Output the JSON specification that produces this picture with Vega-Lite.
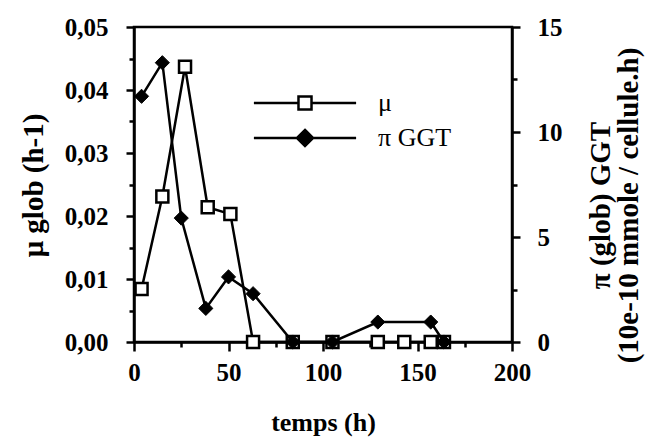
{
  "$schema": "https://vega.github.io/schema/vega-lite/v6.json",
  "width": 378,
  "height": 315,
  "autosize": {"type": "none"},
  "padding": {"left": 134, "top": 27, "right": 145, "bottom": 101},
  "background": "white",
  "config": {
    "view": {"stroke": "black", "strokeWidth": 2.5},
    "font": "Liberation Serif",
    "axis": {
      "domainColor": "black", "domainWidth": 2.5,
      "tickColor": "black", "tickWidth": 2.5,
      "labelFont": "Liberation Serif", "labelFontWeight": "bold", "labelFontSize": 25, "labelColor": "black",
      "titleFont": "Liberation Serif", "titleFontWeight": "bold", "titleFontSize": 26, "titleColor": "black",
      "grid": false
    }
  },
  "datasets": {
    "mu": [
      {"t": 4, "mu": 0.0084},
      {"t": 15, "mu": 0.0231},
      {"t": 27, "mu": 0.0437},
      {"t": 39, "mu": 0.0214},
      {"t": 51, "mu": 0.0203},
      {"t": 63, "mu": 0},
      {"t": 84, "mu": 0},
      {"t": 105, "mu": 0},
      {"t": 129, "mu": 0},
      {"t": 143, "mu": 0},
      {"t": 157, "mu": 0},
      {"t": 164, "mu": 0}
    ],
    "pi": [
      {"t": 4, "pi": 11.7},
      {"t": 15, "pi": 13.3},
      {"t": 25, "pi": 5.9},
      {"t": 38, "pi": 1.6},
      {"t": 50, "pi": 3.1},
      {"t": 63, "pi": 2.3},
      {"t": 84, "pi": 0},
      {"t": 105, "pi": 0},
      {"t": 129, "pi": 0.95},
      {"t": 157, "pi": 0.95},
      {"t": 164, "pi": 0}
    ],
    "series": []
  },
  "layer": [
    {
      "data": {"name": "mu"},
      "encoding": {
        "x": {
          "field": "t", "type": "quantitative",
          "scale": {"domain": [0, 200], "nice": false},
          "axis": {
            "title": "temps (h)",
            "values": [0, 25, 50, 75, 100, 125, 150, 175, 200],
            "labelExpr": "datum.value % 50 === 0 ? datum.label : ''",
            "tickSize": {"condition": {"test": "datum.value % 50 === 0", "value": 9}, "value": 5},
            "labelPadding": 9,
            "labelFlush": false,
            "titleY": 80, "titleBaseline": "middle"
          }
        },
        "y": {
          "field": "mu", "type": "quantitative",
          "scale": {"domain": [0, 0.05], "nice": false},
          "axis": {
            "orient": "left",
            "title": "μ glob (h-1)",
            "titleFontSize": 29,
            "values": [0, 0.005, 0.01, 0.015, 0.02, 0.025, 0.03, 0.035, 0.04, 0.045, 0.05],
            "labelExpr": "abs(datum.value*100 - round(datum.value*100)) < 0.01 ? replace(format(datum.value, '.2f'), '.', ',') : ''",
            "tickSize": {"condition": {"test": "abs(datum.value*100 - round(datum.value*100)) < 0.01", "value": 8}, "value": 5},
            "labelPadding": 18,
            "labelFlush": false,
            "titleX": -101, "titleY": 158, "titleAlign": "center", "titleBaseline": "middle", "titleAngle": -90
          }
        }
      },
      "layer": [
        {"mark": {"type": "line", "color": "black", "strokeWidth": 2.5}},
        {"mark": {"type": "point", "shape": "square", "filled": true, "fill": "white", "stroke": "black", "strokeWidth": 2.5, "size": 144, "opacity": 1}}
      ]
    },
    {
      "data": {"name": "pi"},
      "encoding": {
        "x": {
          "field": "t", "type": "quantitative",
          "scale": {"domain": [0, 200], "nice": false},
          "axis": {
            "title": "temps (h)",
            "values": [0, 25, 50, 75, 100, 125, 150, 175, 200],
            "labelExpr": "datum.value % 50 === 0 ? datum.label : ''",
            "tickSize": {"condition": {"test": "datum.value % 50 === 0", "value": 9}, "value": 5},
            "labelPadding": 9,
            "labelFlush": false,
            "titleY": 80, "titleBaseline": "middle"
          }
        },
        "y": {
          "field": "pi", "type": "quantitative",
          "scale": {"domain": [0, 15], "nice": false},
          "axis": {
            "orient": "right",
            "title": ["π (glob)  GGT", "(10e-10 mmole / cellule.h)"],
            "titleFontSize": 29,
            "values": [0, 2.5, 5, 7.5, 10, 12.5, 15],
            "labelExpr": "datum.value % 5 === 0 ? datum.label : ''",
            "tickSize": {"condition": {"test": "datum.value % 5 === 0", "value": 8}, "value": 5},
            "labelPadding": 17,
            "labelFlush": false,
            "titleX": 88, "titleY": 178, "titleAlign": "center", "titleBaseline": "middle", "titleAngle": -90, "titleLineHeight": 28
          }
        }
      },
      "layer": [
        {"mark": {"type": "line", "color": "black", "strokeWidth": 2.5}},
        {"mark": {"type": "point", "shape": "diamond", "filled": true, "fill": "black", "stroke": "black", "strokeWidth": 1, "size": 200, "opacity": 1}}
      ]
    },
    {
      "data": {"name": "series"},
      "mark": {"type": "point", "filled": false, "color": "black", "stroke": "black", "strokeWidth": 2.5, "size": 196, "opacity": 1},
      "encoding": {
        "shape": {
          "field": "serie", "type": "nominal",
          "scale": {"domain": ["μ", "π GGT"], "range": ["M-7.3,0H-0.93M0.93,0H7.3M-0.93,-0.93H0.93V0.93H-0.93Z", "M-7.3,0H7.3M0,-1.15L1.15,0L0,1.15L-1.15,0ZM0,-0.8L0.8,0L0,0.8L-0.8,0ZM0,-0.45L0.45,0L0,0.45L-0.45,0ZM0,-0.15L0.15,0L0,0.15L-0.15,0Z"]},
          "legend": {
            "orient": "none", "legendX": 121, "legendY": 63,
            "title": null, "padding": 0, "rowPadding": 8,
            "symbolSize": 196, "symbolOffset": 37, "labelOffset": 60,
            "symbolStrokeColor": "black", "symbolStrokeWidth": 2.5, "symbolOpacity": 1,
            "labelFont": "Liberation Serif", "labelFontSize": 26, "labelFontWeight": "normal", "labelColor": "black"
          }
        }
      }
    }
  ],
  "resolve": {"scale": {"y": "independent"}}
}
